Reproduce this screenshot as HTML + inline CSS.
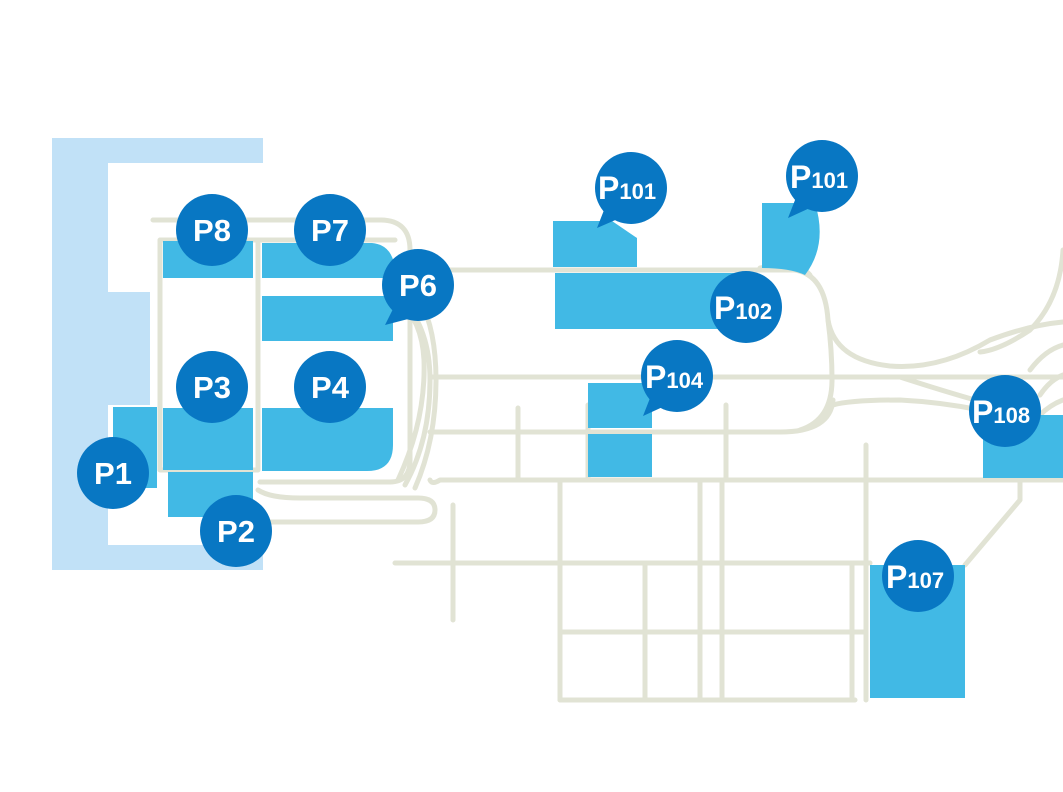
<!DOCTYPE html>
<html><head><meta charset="utf-8"><style>
html,body{margin:0;padding:0;background:#fff;}
svg{display:block}
.r{fill:none;stroke:#e1e3d4;stroke-width:5;stroke-linecap:round;stroke-linejoin:round}
.lot{fill:#41b9e5}
.m{fill:#0877c3}
text{font-family:"Liberation Sans",sans-serif;font-weight:bold;fill:#fff}
</style></head><body>
<svg width="1063" height="792" viewBox="0 0 1063 792" xmlns="http://www.w3.org/2000/svg">
<path d="M52,138 H263 V163 H108 V292 H150 V405 H108 V545 H263 V570 H52 Z" fill="#c1e1f7"/>

<g class="r">
<path d="M153,220 H380 Q410,220 410,250 V460 Q410,482 390,482 H260"/>
<path d="M160,240 H395 M160,240 V470 H258 M258,240 V470"/>
<path d="M258,490 Q270,498 300,498 H418 Q435,498 435,510 Q435,522 418,522 H258"/>
<path d="M398,300 Q422,320 424,360 Q426,420 398,480"/>
<path d="M403,300 Q430,330 430,380 Q430,440 405,485"/>
<path d="M420,300 Q436,330 436,380 Q436,440 415,488"/>
<path d="M430,270 H795 Q825,275 828,320 Q832,350 832,380 Q832,420 800,430"/>
<path d="M430,377 H1063"/>
<path d="M430,432 H780 Q830,432 833,400"/>
<path d="M828,320 Q835,360 890,366 Q940,370 990,340 Q1030,325 1063,322"/>
<path d="M833,405 Q850,400 900,400 Q940,402 980,410"/>
<path d="M900,377 Q940,390 975,400"/>
<path d="M1063,250 Q1060,300 1030,330 Q1000,350 980,352"/>
<path d="M1040,395 Q1050,380 1063,375 M1040,415 Q1050,405 1063,400 M1030,370 Q1045,350 1063,345"/>
<path d="M430,480 Q432,485 440,480 H1063"/>
<path d="M518,408 V480 M726,405 V480 M866,445 V700 M588,405 V480"/>
<path d="M395,563 H870 M560,632 H866 M560,700 H855"/>
<path d="M560,480 V700 M645,563 V700 M700,480 V700 M722,480 V700 M852,563 V700 M453,505 V620"/>
<path d="M1020,480 V500 L965,565"/>
<path d="M760,268 Q800,262 810,275"/>
</g>

<rect class="lot" x="163" y="241" width="90" height="37"/>
<path class="lot" d="M262,243 H372 Q393,245 395,270 V278 H262 Z"/>
<rect class="lot" x="262" y="296" width="131" height="45"/>
<rect class="lot" x="163" y="408" width="90" height="62"/>
<path class="lot" d="M262,408 H393 V445 Q393,471 367,471 H262 Z"/>
<rect class="lot" x="113" y="407" width="44" height="81"/>
<rect class="lot" x="168" y="472" width="85" height="45"/>
<path class="lot" d="M553,221 H612 L637,238 V267 H553 Z"/>
<path class="lot" d="M762,203 H815 Q828,245 805,275 Q790,268 762,268 Z"/>
<rect class="lot" x="555" y="273" width="185" height="56"/>
<rect class="lot" x="588" y="383" width="64" height="45"/>
<rect class="lot" x="588" y="434" width="64" height="43"/>
<rect class="lot" x="983" y="415" width="80" height="63"/>
<rect class="lot" x="870" y="565" width="95" height="133"/>

<g>
<circle class="m" cx="212" cy="230" r="36"/><text x="212" y="241" font-size="31" text-anchor="middle">P8</text>
<circle class="m" cx="330" cy="230" r="36"/><text x="330" y="241" font-size="31" text-anchor="middle">P7</text>
<circle class="m" cx="418" cy="285" r="36"/><path class="m" d="M395,305 L385,325 L412,318 Z"/><text x="418" y="296" font-size="31" text-anchor="middle">P6</text>
<circle class="m" cx="212" cy="387" r="36"/><text x="212" y="398" font-size="31" text-anchor="middle">P3</text>
<circle class="m" cx="330" cy="387" r="36"/><text x="330" y="398" font-size="31" text-anchor="middle">P4</text>
<circle class="m" cx="113" cy="473" r="36"/><text x="113" y="484" font-size="31" text-anchor="middle">P1</text>
<circle class="m" cx="236" cy="531" r="36"/><text x="236" y="542" font-size="31" text-anchor="middle">P2</text>

<circle class="m" cx="631" cy="188" r="36"/><path class="m" d="M606,205 L597,228 L620,218 Z"/>
<text x="598" y="199" font-size="32">P<tspan font-size="22">101</tspan></text>
<circle class="m" cx="822" cy="176" r="36"/><path class="m" d="M797,195 L788,218 L812,207 Z"/>
<text x="790" y="188" font-size="32">P<tspan font-size="22">101</tspan></text>
<circle class="m" cx="746" cy="307" r="36"/>
<text x="714" y="319" font-size="32">P<tspan font-size="22">102</tspan></text>
<circle class="m" cx="677" cy="376" r="36"/><path class="m" d="M652,393 L643,416 L667,405 Z"/>
<text x="645" y="388" font-size="32">P<tspan font-size="22">104</tspan></text>
<circle class="m" cx="1005" cy="411" r="36"/>
<text x="972" y="423" font-size="32">P<tspan font-size="22">108</tspan></text>
<circle class="m" cx="918" cy="576" r="36"/>
<text x="886" y="588" font-size="32">P<tspan font-size="22">107</tspan></text>
</g>
</svg>
</body></html>
